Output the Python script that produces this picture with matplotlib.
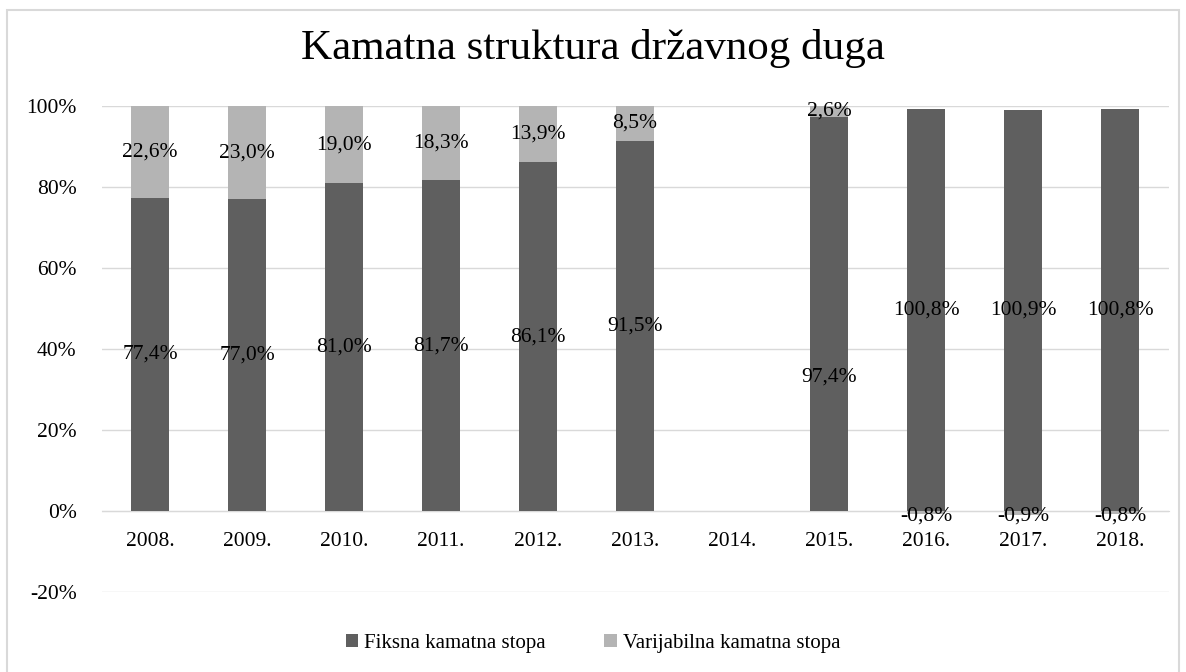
import numpy as np
import matplotlib.pyplot as plt
from matplotlib.patches import Rectangle

years = ["2008.", "2009.", "2010.", "2011.", "2012.", "2013.", "2014.",
         "2015.", "2016.", "2017.", "2018."]
fiksna = [77.4, 77.0, 81.0, 81.7, 86.1, 91.5, np.nan, 97.4, 100.8, 100.9, 100.8]
varijabilna = [22.6, 23.0, 19.0, 18.3, 13.9, 8.5, np.nan, 2.6, -0.8, -0.9, -0.8]
yticks = [-20, 0, 20, 40, 60, 80, 100]

plt.rcParams['font.family'] = ['Liberation Serif', 'DejaVu Serif']

fix = np.array(fiksna)
var = np.array(varijabilna)
# 100% stacked: shares of absolute total
tot = np.abs(fix) + np.abs(var)
fix_s = fix / tot * 100
var_s = var / tot * 100

c_fix = "#5f5f5f"
c_var = "#b4b4b4"

fig = plt.figure(figsize=(11.86, 6.72), dpi=100)
ax = fig.add_axes([0.0856, 0.119, 0.8997, 0.723])
x = np.arange(len(years))
w = 0.4

ax.bar(x, fix_s, w, color=c_fix, label="Fiksna kamatna stopa", zorder=3)
pos = np.where(var_s > 0, var_s, 0)
neg = np.where(var_s < 0, var_s, 0)
ax.bar(x, pos, w, bottom=fix_s, color=c_var, label="Varijabilna kamatna stopa", zorder=3)
ax.bar(x, neg, w, color=c_var, zorder=3)

fs = 15.5
for i in range(len(years)):
    if np.isnan(fix[i]):
        continue
    yf = fix_s[i] / 2
    if years[i] == "2015.":
        yf = 33
    ax.text(x[i], yf, f"{fix[i]:.1f}%".replace(".", ","), ha="center", va="center",
            fontsize=fs, zorder=4)
    if var[i] > 0:
        yv = fix_s[i] + var_s[i] / 2
    else:
        yv = var_s[i] / 2 - 0.8
    ax.text(x[i], yv, f"{var[i]:.1f}%".replace(".", ","), ha="center", va="center",
            fontsize=fs, zorder=4)

ax.set_ylim(-20, 100)
ax.set_xlim(-0.5, len(years) - 0.5)
ax.set_yticks(yticks)
ax.set_yticklabels([f"{t}%" for t in yticks])
ax.set_xticks(x)
ax.set_xticklabels(years)
ax.grid(axis="y", color="#d9d9d9", linewidth=1, zorder=0)
for s in ["left", "right", "top"]:
    ax.spines[s].set_visible(False)
ax.spines["bottom"].set_position(("data", 0))
ax.spines["bottom"].set_color("#d9d9d9")
ax.tick_params(axis="both", length=0, labelsize=15.5)
ax.tick_params(axis="x", pad=15)
ax.tick_params(axis="y", pad=18)

fig.text(0.5, 0.928, "Kamatna struktura državnog duga", ha="center", va="center", fontsize=31)
fig.legend(loc="center", bbox_to_anchor=(0.5, 0.043), ncol=2, frameon=False,
           fontsize=15, handlelength=0.6, handleheight=0.6, columnspacing=2.8, handletextpad=0.3)

fig.patches.append(Rectangle((0.006, -0.05), 0.988, 1.035, transform=fig.transFigure,
                             fill=False, edgecolor="#d9d9d9", linewidth=1.5))

fig.savefig("out.png", dpi=100)
